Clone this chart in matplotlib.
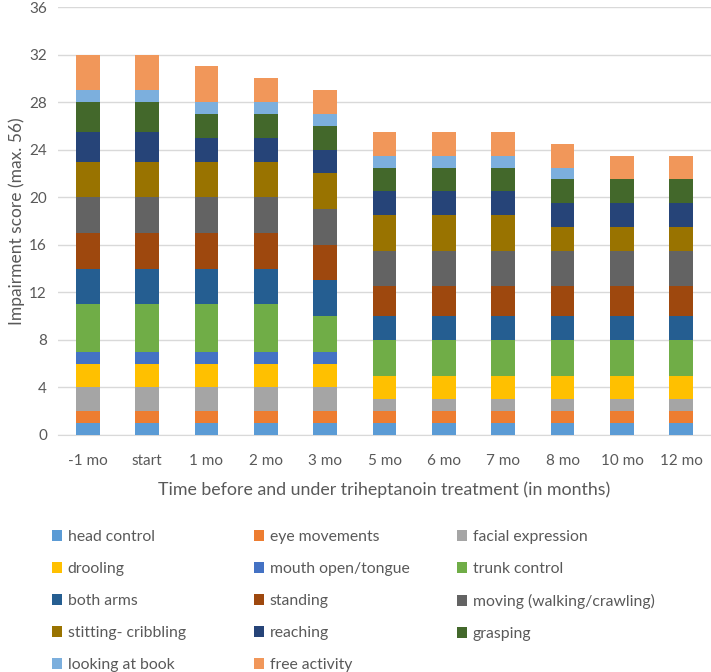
import matplotlib.pyplot as plt
import numpy as np

plt.rcParams['font.family'] = ['Lato', 'DejaVu Sans']

# categories on the x axis
months = ['-1 mo', 'start', '1 mo', '2 mo', '3 mo', '5 mo', '6 mo', '7 mo', '8 mo', '10 mo', '12 mo']

# item scores per time point
head_control = [1, 1, 1, 1, 1, 1, 1, 1, 1, 1, 1]
eye_movements = [1, 1, 1, 1, 1, 1, 1, 1, 1, 1, 1]
facial_expression = [2, 2, 2, 2, 2, 1, 1, 1, 1, 1, 1]
drooling = [2, 2, 2, 2, 2, 2, 2, 2, 2, 2, 2]
mouth_open = [1, 1, 1, 1, 1, 0, 0, 0, 0, 0, 0]
trunk_control = [4, 4, 4, 4, 3, 3, 3, 3, 3, 3, 3]
both_arms = [3, 3, 3, 3, 3, 2, 2, 2, 2, 2, 2]
standing = [3, 3, 3, 3, 3, 2.5, 2.5, 2.5, 2.5, 2.5, 2.5]
moving = [3, 3, 3, 3, 3, 3, 3, 3, 3, 3, 3]
sitting = [3, 3, 3, 3, 3, 3, 3, 3, 2, 2, 2]
reaching = [2.5, 2.5, 2, 2, 2, 2, 2, 2, 2, 2, 2]
grasping = [2.5, 2.5, 2, 2, 2, 2, 2, 2, 2, 2, 2]
looking_book = [1, 1, 1, 1, 1, 1, 1, 1, 1, 0, 0]
free_activity = [3, 3, 3, 2, 2, 2, 2, 2, 2, 2, 2]

series = [
    ('head control', head_control, '#5B9BD5'),
    ('eye movements', eye_movements, '#ED7D31'),
    ('facial expression', facial_expression, '#A5A5A5'),
    ('drooling', drooling, '#FFC000'),
    ('mouth open/tongue', mouth_open, '#4472C4'),
    ('trunk control', trunk_control, '#70AD47'),
    ('both arms', both_arms, '#255E91'),
    ('standing', standing, '#9E480E'),
    ('moving (walking/crawling)', moving, '#636363'),
    ('stitting- cribbling', sitting, '#997300'),
    ('reaching', reaching, '#264478'),
    ('grasping', grasping, '#43682B'),
    ('looking at book', looking_book, '#7CAFDD'),
    ('free activity', free_activity, '#F1975A'),
]

fig = plt.figure(figsize=(7.11, 6.72), dpi=100)
ax = fig.add_axes([58 / 711, 1 - 435 / 672, 1 - 58 / 711, (435 - 7) / 672])

x = np.arange(len(months))
bottom = np.zeros(len(months))
bars = []
for name, vals, col in series:
    b = ax.bar(x, vals, 0.4, bottom=bottom, color=col, label=name, zorder=3)
    bars.append(b)
    bottom += np.array(vals)

ax.set_xlim(-0.5, len(months) - 0.5)
ax.set_ylim(0, 36)
ax.set_yticks(range(0, 37, 4))
ax.set_xticks(x)
ax.set_xticklabels(months)
ax.grid(axis='y', color='#D9D9D9', linewidth=1, zorder=0)
for s in ['top', 'right', 'left']:
    ax.spines[s].set_visible(False)
ax.spines['bottom'].set_color('#D9D9D9')
ax.tick_params(axis='y', length=0, colors='#595959', labelsize=11, pad=8)
ax.tick_params(axis='x', length=0, colors='#595959', labelsize=11, pad=14)
ax.set_ylabel('Impairment score (max. 56)', fontsize=12.5, color='#595959', labelpad=3)
ax.set_xlabel('Time before and under triheptanoin treatment (in months)', fontsize=12.8,
              color='#595959', labelpad=9)

# legend laid out in three columns, row by row
col_x = [52 / 711, 254 / 711, 457 / 711]
for c in range(3):
    idx = list(range(c, len(series), 3))
    leg = fig.legend([bars[i] for i in idx], [series[i][0] for i in idx],
                     loc='upper left', bbox_to_anchor=(col_x[c], 1 - 530 / 672),
                     frameon=False, fontsize=11.3, handlelength=0.65, handleheight=0.65,
                     handletextpad=0.35, labelspacing=1.15, borderaxespad=0, borderpad=0)
    for t in leg.get_texts():
        t.set_color('#595959')

plt.savefig('out.png', dpi=100)
